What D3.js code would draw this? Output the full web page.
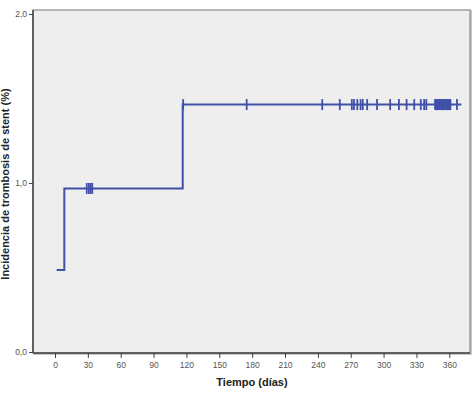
<!DOCTYPE html>
<html><head><meta charset="utf-8">
<script src="https://cdn.jsdelivr.net/npm/d3@7"></script>
<style>body{margin:0;background:#fff}svg{display:block}</style>
</head><body>
<script>
// Data
const eventTimes = [1.5, 8.5, 116.6];
const eventValues = [0.485, 0.968, 1.464];
const endTime = 371;
const censorTimes = [29, 31, 32.5, 34, 117, 175, 244, 260, 271, 273, 276, 279, 281, 285, 294, 306, 314, 321, 328, 334, 337, 339,
  347, 348, 349, 350, 351, 352, 353, 354, 355, 356, 357, 358, 359, 360, 361, 367];
const xTicks = [0, 30, 60, 90, 120, 150, 180, 210, 240, 270, 300, 330, 360];
const yTicks = [0, 1, 2];

const W = 473, H = 397;
const svg = d3.select("body").append("svg").attr("width", W).attr("height", H);
const x = d3.scaleLinear().domain([0, 360]).range([55, 449.3]);
const y = d3.scaleLinear().domain([0, 2]).range([352, 14]);
const pL = 33, pR = 470, pT = 10, pB = 353;

// plot area
svg.append("rect").attr("x", pL + 1).attr("y", pT + 1).attr("width", pR - pL).attr("height", pB - pT)
  .attr("fill", "none").attr("stroke", "#c8c8c8").attr("stroke-width", 2);
svg.append("rect").attr("x", pL).attr("y", pT).attr("width", pR - pL).attr("height", pB - pT)
  .attr("fill", "#eeeeee").attr("stroke", "#8a8a8a").attr("stroke-width", 1.2);
svg.append("line").attr("x1", pL).attr("x2", pL).attr("y1", pT).attr("y2", pB).attr("stroke", "#444").attr("stroke-width", 1.5);
svg.append("line").attr("x1", pL).attr("x2", pR).attr("y1", pB).attr("y2", pB).attr("stroke", "#444").attr("stroke-width", 1.5);

// axes
const xAxis = svg.append("g").attr("transform", `translate(0,${pB})`)
  .call(d3.axisBottom(x).tickValues(xTicks).tickSize(5).tickPadding(4).tickFormat(d3.format("d")));
const yAxis = svg.append("g").attr("transform", `translate(${pL},0)`)
  .call(d3.axisLeft(y).tickValues(yTicks).tickSize(4).tickPadding(2).tickFormat(d => d.toFixed(1).replace(".", ",")));
[xAxis, yAxis].forEach(g => {
  g.select(".domain").remove();
  g.selectAll(".tick line").attr("stroke", "#444");
  g.selectAll(".tick text").attr("fill", "#555").attr("font-family", "Liberation Sans, Arial, sans-serif").attr("font-size", 8.5);
});

// step line
const pts = [];
eventTimes.forEach((t, i) => {
  if (i > 0) pts.push([t, eventValues[i - 1]]);
  pts.push([t, eventValues[i]]);
});
pts.push([endTime, eventValues[eventValues.length - 1]]);
const color = "#4050a8";
svg.append("path").attr("d", d3.line().x(d => x(d[0])).y(d => y(d[1]))(pts))
  .attr("fill", "none").attr("stroke", color).attr("stroke-width", 2);

function valueAt(t) {
  let v = 0;
  eventTimes.forEach((et, i) => { if (t >= et) v = eventValues[i]; });
  return v;
}
svg.append("g").selectAll("line").data(censorTimes).join("line")
  .attr("x1", d => x(d)).attr("x2", d => x(d))
  .attr("y1", d => y(valueAt(d)) - 5.5).attr("y2", d => y(valueAt(d)) + 5.5)
  .attr("stroke", color).attr("stroke-width", 1.8);

// titles
svg.append("text").attr("x", 252).attr("y", 386).attr("text-anchor", "middle")
  .attr("font-family", "Liberation Sans, Arial, sans-serif").attr("font-weight", "bold").attr("font-size", 11)
  .attr("fill", "#222").text("Tiempo (días)");
svg.append("text").attr("transform", `translate(9,${184}) rotate(-90)`).attr("text-anchor", "middle")
  .attr("font-family", "Liberation Sans, Arial, sans-serif").attr("font-weight", "bold").attr("font-size", 11)
  .attr("fill", "#222").text("Incidencia de trombosis de stent (%)");
</script>
</body></html>
